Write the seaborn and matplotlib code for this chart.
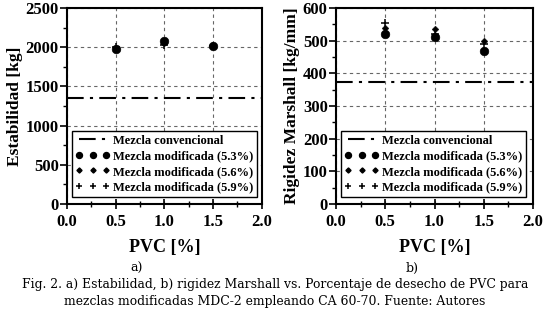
import numpy as np
import pandas as pd
import matplotlib
matplotlib.use('Agg')
import matplotlib.pyplot as plt
import seaborn as sns
from matplotlib.lines import Line2D
from matplotlib.ticker import MultipleLocator

# datos
pvc = [0.5, 1.0, 1.5]
estab_53 = [1975, 2085, 2010]
estab_56 = [1995, 2060, 2015]
estab_59 = [2005, 2025, 2010]
estab_conv = 1350

rigidez_53 = [522, 512, 468]
rigidez_56 = [540, 537, 498]
rigidez_59 = [553, 520, 490]
rigidez_conv = 373

series_names = ['Mezcla modificada (5.3%)', 'Mezcla modificada (5.6%)', 'Mezcla modificada (5.9%)']
conv_name = 'Mezcla convencional'

sns.set_style('ticks')
plt.rcParams['font.family'] = ['Liberation Serif', 'DejaVu Serif']
plt.rcParams['font.weight'] = 'bold'
plt.rcParams['axes.labelweight'] = 'bold'
plt.rcParams['text.color'] = 'black'
plt.rcParams['axes.labelcolor'] = 'black'
plt.rcParams['xtick.color'] = 'black'
plt.rcParams['ytick.color'] = 'black'

fig = plt.figure(figsize=(5.5, 3.1), dpi=100)
ax1 = fig.add_axes([0.122, 0.342, 0.354, 0.632])
ax2 = fig.add_axes([0.611, 0.342, 0.358, 0.632])

dash = (0, (8, 3, 1.5, 3))


def draw(ax, s53, s56, s59, conv, ymax, ymajor, yminor, ylabel):
    df = pd.DataFrame({'pvc': pvc * 3, 'val': s53 + s56 + s59,
                       'serie': [series_names[0]] * 3 + [series_names[1]] * 3 + [series_names[2]] * 3})
    sns.scatterplot(data=df[df.serie == series_names[0]], x='pvc', y='val', ax=ax,
                    marker='o', s=38, color='black', edgecolor='black', legend=False, zorder=4)
    sns.scatterplot(data=df[df.serie == series_names[1]], x='pvc', y='val', ax=ax,
                    marker='D', s=12, color='black', edgecolor='black', legend=False, zorder=4)
    sns.scatterplot(data=df[df.serie == series_names[2]], x='pvc', y='val', ax=ax,
                    marker='+', s=40, color='black', linewidth=1.1, legend=False, zorder=4)
    ax.axhline(conv, color='black', linestyle=dash, linewidth=1.5, zorder=3)

    ax.set_xlim(0, 2.0)
    ax.set_ylim(0, ymax)
    ax.xaxis.set_major_locator(MultipleLocator(0.5))
    ax.xaxis.set_minor_locator(MultipleLocator(0.25))
    ax.yaxis.set_major_locator(MultipleLocator(ymajor))
    ax.yaxis.set_minor_locator(MultipleLocator(yminor))
    ax.xaxis.set_major_formatter(matplotlib.ticker.FormatStrFormatter('%.1f'))
    ax.grid(True, which='major', color='#666666', linestyle=(0, (3, 3)), linewidth=0.8)
    ax.tick_params(axis='x', which='major', direction='inout', length=7, width=1.2, labelsize=12, pad=4)
    ax.tick_params(axis='x', which='minor', direction='inout', length=5, width=1.0)
    ax.tick_params(axis='y', which='major', direction='out', length=5, width=1.2, labelsize=12, pad=1)
    ax.tick_params(axis='y', which='minor', direction='out', length=3, width=1.0)
    for lab in ax.get_xticklabels() + ax.get_yticklabels():
        lab.set_fontweight('bold')
    for sp in ax.spines.values():
        sp.set_linewidth(1.5)
        sp.set_color('black')
    ax.set_xlabel('PVC [%]', fontsize=13, fontweight='bold', labelpad=6)
    ax.set_ylabel(ylabel, fontsize=12.5, fontweight='bold', labelpad=2)

    handles = [
        Line2D([], [], color='black', linestyle=dash, linewidth=1.5),
        Line2D([], [], color='black', marker='o', markersize=4.3, linestyle='none'),
        Line2D([], [], color='black', marker='D', markersize=2.6, linestyle='none'),
        Line2D([], [], color='black', marker='+', markersize=5, markeredgewidth=1.1, linestyle='none'),
    ]
    leg = ax.legend(handles, [conv_name] + series_names, loc='lower left',
                    bbox_to_anchor=(0.025, 0.035), borderaxespad=0, numpoints=3,
                    handlelength=2.7, handletextpad=0.3, labelspacing=0.28,
                    borderpad=0.3, fancybox=False, framealpha=1, edgecolor='black',
                    prop={'family': 'Liberation Serif', 'weight': 'bold', 'size': 9})
    leg.get_frame().set_linewidth(1.0)
    leg.set_zorder(5)


draw(ax1, estab_53, estab_56, estab_59, estab_conv, 2500, 500, 250, 'Estabilidad [kg]')
draw(ax2, rigidez_53, rigidez_56, rigidez_59, rigidez_conv, 600, 100, 50, 'Rigidez Marshall [kg/mm]')

fig.text(0.249, 0.135, 'a)', ha='center', va='center', fontsize=9, family='DejaVu Serif', fontweight='normal')
fig.text(0.749, 0.135, 'b)', ha='center', va='center', fontsize=9, family='DejaVu Serif', fontweight='normal')
fig.text(0.5, 0.081, 'Fig. 2. a) Estabilidad, b) rigidez Marshall vs. Porcentaje de desecho de PVC para',
         ha='center', va='center', fontsize=8.9, family='DejaVu Serif', fontweight='normal')
fig.text(0.5, 0.027, 'mezclas modificadas MDC-2 empleando CA 60-70. Fuente: Autores',
         ha='center', va='center', fontsize=8.9, family='DejaVu Serif', fontweight='normal')

fig.savefig('out.png', dpi=100)
